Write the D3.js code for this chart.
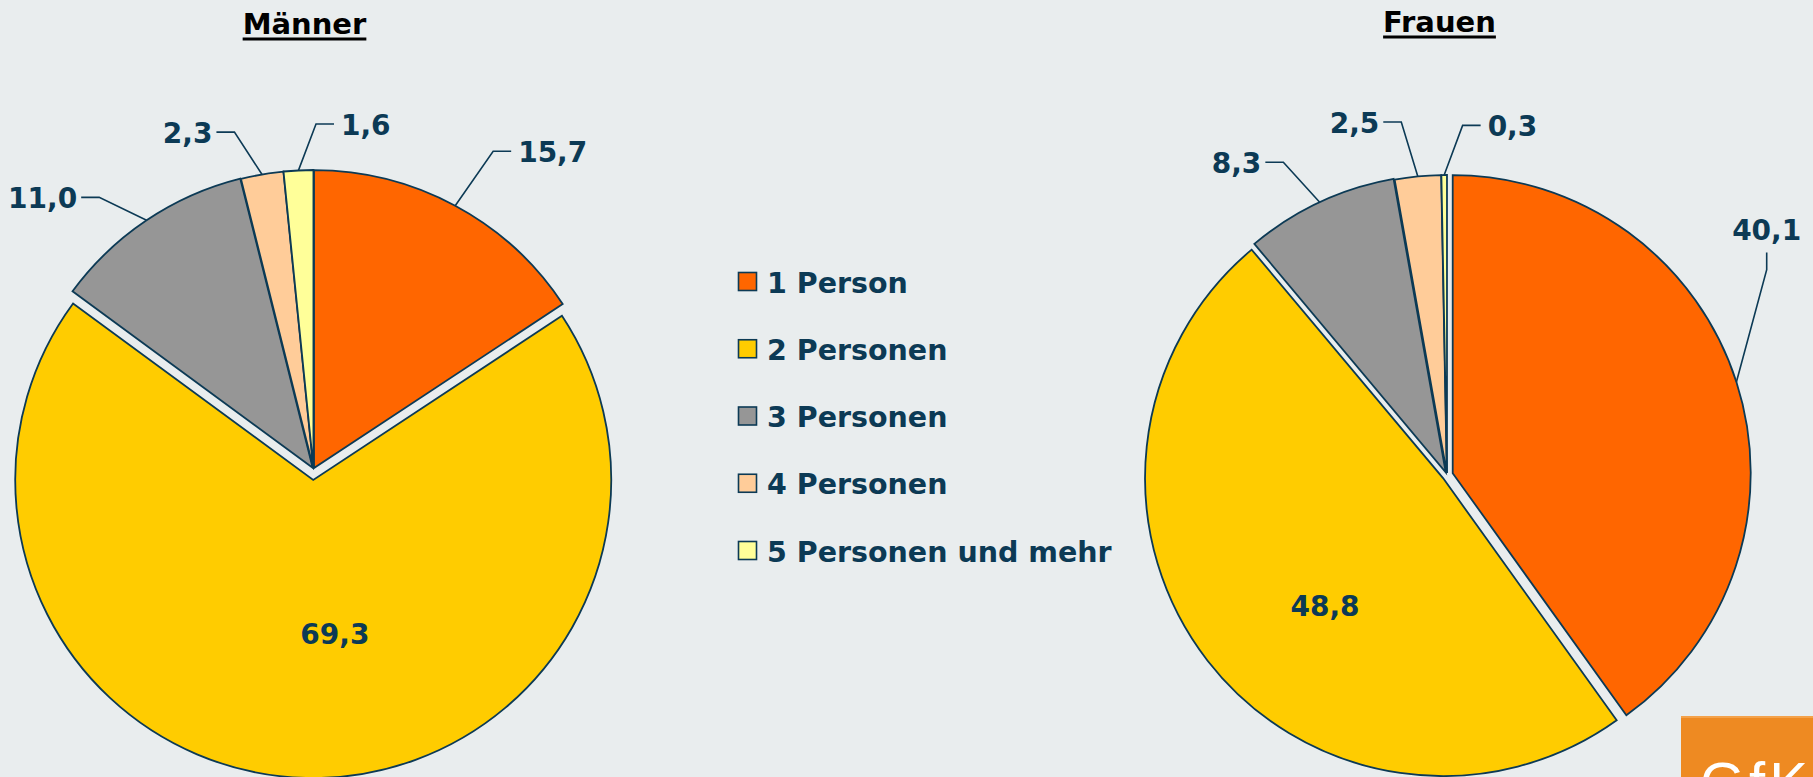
<!DOCTYPE html>
<html><head><meta charset="utf-8">
<script src="https://cdn.jsdelivr.net/npm/d3@7"></script>
<style>html,body{margin:0;padding:0;background:#E9EDEE;overflow:hidden}</style>
</head><body><svg id="c" width="1813" height="777"></svg>
<script>
// ---- data ----
const categories = ["1 Person", "2 Personen", "3 Personen", "4 Personen", "5 Personen und mehr"];
const maennerValues = [15.7, 69.3, 11.0, 2.3, 1.6];
const frauenValues = [40.1, 48.8, 8.3, 2.5, 0.3];
const pieTitles = ["Männer", "Frauen"];
const colors = ["#FF6600", "#FFCC00", "#969696", "#FFCC99", "#FFFF99"];

// ---- layout / style ----
const NAVY = "#0C3A55";
const FONT = "'DejaVu Sans', Verdana, sans-serif";
const pies = [
  { values: maennerValues, title: pieTitles[0], cx: 313.5, cy: 469, r: 298,
    explode: [1, 11, 1.5, 1, 1], titleDx: -9, titleY: 34,
    labels: [ {a: 1.2, r: 365, side: 1}, {inside: true, a: -9.4, r: 156},
              {a: -4.4, r: 346, side: -1}, {a: -3.3, r: 346, side: -1}, {a: 3.3, r: 345, side: 1} ] },
  { values: frauenValues, title: pieTitles[1], cx: 1447, cy: 475, r: 298,
    explode: [6, 5, 3, 2, 2], titleDx: -7.5, titleY: 32,
    labels: [ {a: -14.9, r: 380, up: true}, {inside: true, a: -9.5, r: 174},
              {a: -2.6, r: 353, side: -1}, {a: -1.8, r: 356, side: -1}, {a: 3.1, r: 350, side: 1} ] }
];

const locale = d3.formatLocale({decimal: ",", thousands: ".", grouping: [3], currency: ["", "€"]});
const fmt = locale.format(".1f");
const color = d3.scaleOrdinal().domain(categories).range(colors);
const rad = d => d * Math.PI / 180;
const svg = d3.select("#c");

svg.append("rect").attr("width", 1813).attr("height", 777).attr("fill", "#E9EDEE");

pies.forEach(p => {
  const data = categories.map((c, i) => ({cat: c, value: p.values[i], idx: i}));
  const arcs = d3.pie().sort(null).value(d => d.value)(data);
  const arc = d3.arc().innerRadius(0).outerRadius(p.r);
  const g = svg.append("g").attr("transform", `translate(${p.cx},${p.cy})`);

  const off = d => {
    const m = (d.startAngle + d.endAngle) / 2, e = p.explode[d.index];
    return [Math.sin(m) * e, -Math.cos(m) * e];
  };

  g.selectAll("path.slice").data(arcs).join("path")
    .attr("class", "slice")
    .attr("transform", d => { const o = off(d); return `translate(${o[0]},${o[1]})`; })
    .attr("d", arc)
    .attr("fill", d => color(d.data.cat))
    .attr("stroke", NAVY).attr("stroke-width", 1.8).attr("stroke-linejoin", "miter");

  // labels
  arcs.forEach(d => {
    const L = p.labels[d.index];
    const m = (d.startAngle + d.endAngle) / 2;
    const o = off(d);
    const txt = fmt(d.data.value);
    if (L.inside) {
      const a = m + rad(L.a);
      g.append("text").attr("x", o[0] + Math.sin(a) * L.r).attr("y", o[1] - Math.cos(a) * L.r + 10)
        .attr("text-anchor", "middle").attr("font-family", FONT).attr("font-weight", "bold")
        .attr("font-size", 28).attr("fill", NAVY).text(txt);
      return;
    }
    const sx = o[0] + Math.sin(m) * p.r, sy = o[1] - Math.cos(m) * p.r;
    const a = m + rad(L.a);
    const ex = Math.sin(a) * L.r, ey = -Math.cos(a) * L.r;
    let pts, tx, ty, anchor;
    if (L.up) {
      pts = [[sx, sy], [ex, ey], [ex, ey - 17]];
      tx = ex; ty = ey - 30; anchor = "middle";
    } else {
      const fx = ex + L.side * 18;
      pts = [[sx, sy], [ex, ey], [fx, ey]];
      tx = fx + L.side * (L.side > 0 ? 7 : 4); ty = ey + 11; anchor = L.side > 0 ? "start" : "end";
    }
    g.append("path").attr("d", d3.line()(pts)).attr("fill", "none")
      .attr("stroke", NAVY).attr("stroke-width", 1.6);
    g.append("text").attr("x", tx).attr("y", ty).attr("text-anchor", anchor)
      .attr("font-family", FONT).attr("font-weight", "bold").attr("font-size", 28)
      .attr("fill", NAVY).text(txt);
  });

  // title
  const t = svg.append("text").attr("x", p.cx + p.titleDx).attr("y", p.titleY)
    .attr("text-anchor", "middle").attr("font-family", FONT).attr("font-weight", "bold")
    .attr("font-size", 29).attr("fill", "#000").text(p.title);
  const w = t.node().getComputedTextLength();
  svg.append("rect").attr("x", p.cx + p.titleDx - w / 2).attr("y", p.titleY + 3.5)
    .attr("width", w).attr("height", 3).attr("fill", "#000");
});

// legend
const legendY = d3.scalePoint().domain(categories).range([272, 541]);
const lg = svg.append("g");
categories.forEach(c => {
  const y = legendY(c);
  lg.append("rect").attr("x", 738.5).attr("y", y + 0.5).attr("width", 18).attr("height", 18)
    .attr("fill", color(c)).attr("stroke", NAVY).attr("stroke-width", 1.6);
  lg.append("text").attr("x", 767).attr("y", y + 20.5).attr("font-family", FONT)
    .attr("font-weight", "bold").attr("font-size", 28.5).attr("fill", NAVY).text(c);
});

// logo corner
const logo = svg.append("g");
logo.append("rect").attr("x", 1681).attr("y", 716).attr("width", 132).attr("height", 61).attr("fill", "#EE8A22");
logo.append("rect").attr("x", 1681).attr("y", 716).attr("width", 132).attr("height", 2).attr("fill", "#F4A24A");
logo.append("text").attr("x", 1700).attr("y", 803).attr("font-family", "'Liberation Sans', Arial, sans-serif")
  .attr("font-size", 58).attr("letter-spacing", 4).attr("fill", "#FFFFFF").text("GfK");
</script>
</body></html>
